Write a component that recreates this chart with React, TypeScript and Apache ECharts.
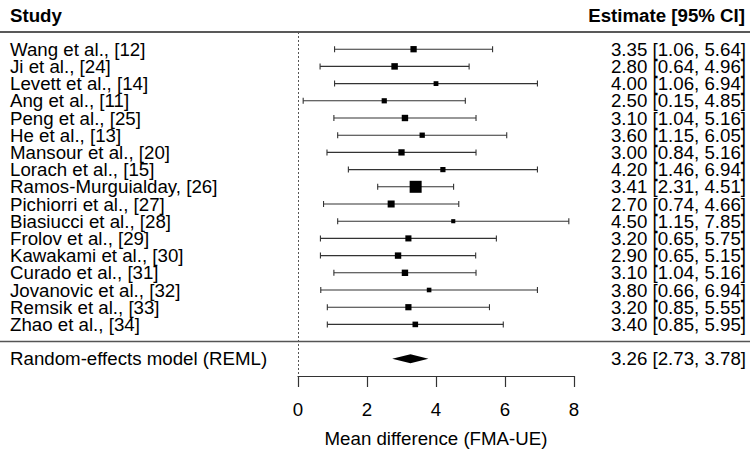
import React, { useEffect, useRef } from "react";
import * as echarts from "echarts";

const studies = [
  "Wang et al., [12]",
  "Ji et al., [24]",
  "Levett et al., [14]",
  "Ang et al., [11]",
  "Peng et al., [25]",
  "He et al., [13]",
  "Mansour et al., [20]",
  "Lorach et al., [15]",
  "Ramos-Murguialday, [26]",
  "Pichiorri et al., [27]",
  "Biasiucci et al., [28]",
  "Frolov et al., [29]",
  "Kawakami et al., [30]",
  "Curado et al., [31]",
  "Jovanovic et al., [32]",
  "Remsik et al., [33]",
  "Zhao et al., [34]",
];
const estimates = [3.35, 2.8, 4.0, 2.5, 3.1, 3.6, 3.0, 4.2, 3.41, 2.7, 4.5, 3.2, 2.9, 3.1, 3.8, 3.2, 3.4];
const lower = [1.06, 0.64, 1.06, 0.15, 1.04, 1.15, 0.84, 1.46, 2.31, 0.74, 1.15, 0.65, 0.65, 1.04, 0.66, 0.85, 0.85];
const upper = [5.64, 4.96, 6.94, 4.85, 5.16, 6.05, 5.16, 6.94, 4.51, 4.66, 7.85, 5.75, 5.15, 5.16, 6.94, 5.55, 5.95];
const weights = [6.3, 6.5, 4.8, 5.2, 6.4, 5.3, 6.3, 5.2, 12.0, 7.0, 4.1, 6.1, 6.4, 6.4, 4.6, 6.2, 5.6];

const summaryLabel = "Random-effects model (REML)";
const summaryEstimate = 3.26;
const summaryLower = 2.73;
const summaryUpper = 3.78;

const headerLeft = "Study";
const headerRight = "Estimate [95% CI]";
const axisTitle = "Mean difference (FMA-UE)";

const FONT = "Liberation Sans, Arial, sans-serif";
const FS = 18.7;
const fmt = (v: number) => v.toFixed(2);

export default function App() {
  const ref = useRef<HTMLDivElement>(null);
  useEffect(() => {
    if (!ref.current) return;
    const chart = echarts.init(ref.current, null, { renderer: "svg" });
    const rowCount = studies.length;
    const studyData = studies.map((_, i) => [i + 1, estimates[i], lower[i], upper[i], weights[i]]);
    const sepRow = rowCount + 1;
    const summaryRow = rowCount + 2;
    const maxRow = rowCount + 3;

    const textStyle = (text: string, align: string) => ({
      text,
      fill: "#000",
      fontSize: FS,
      fontFamily: FONT,
      lineHeight: 16,
      align,
      textAlign: align,
      verticalAlign: "middle",
      textVerticalAlign: "middle",
    });

    chart.setOption({
      animation: false,
      backgroundColor: "#fff",
      grid: { left: 298, right: 176, top: 32, bottom: 80 },
      xAxis: {
        type: "value",
        min: 0,
        max: 8,
        interval: 2,
        position: "bottom",
        splitLine: { show: false },
        axisLine: { show: true, onZero: false, lineStyle: { color: "#333", width: 1.2 } },
        axisTick: { show: true, length: 11, lineStyle: { color: "#333", width: 1.2 } },
        axisLabel: { color: "#000", fontSize: FS, fontFamily: FONT, margin: 24 },
        name: axisTitle,
        nameLocation: "middle",
        nameGap: 53,
        nameTextStyle: { color: "#000", fontSize: FS, fontFamily: FONT },
      },
      yAxis: { type: "value", min: 0, max: maxRow, inverse: true, show: false },
      graphic: [
        { type: "text", left: 10, top: 6, style: { text: headerLeft, fill: "#000", font: `bold ${FS}px ${FONT}` } },
        { type: "text", right: 5, top: 6, style: { text: headerRight, fill: "#000", font: `bold ${FS}px ${FONT}` } },
      ],
      series: [
        {
          type: "custom",
          clip: false,
          data: studyData,
          encode: { x: [1, 2, 3], y: 0 },
          renderItem: (params: any, api: any) => {
            const idx = params.dataIndex;
            const row = api.value(0);
            const est = api.value(1);
            const lo = api.value(2);
            const hi = api.value(3);
            const w = api.value(4);
            const c = api.coord([est, row]);
            const l = api.coord([lo, row]);
            const h = api.coord([hi, row]);
            const s = w;
            const ln = { stroke: "#333", lineWidth: 1.1 };
            return {
              type: "group",
              children: [
                { type: "line", shape: { x1: l[0], y1: l[1], x2: h[0], y2: h[1] }, style: ln },
                { type: "line", shape: { x1: l[0], y1: l[1] - 3, x2: l[0], y2: l[1] + 3 }, style: ln },
                { type: "line", shape: { x1: h[0], y1: h[1] - 3, x2: h[0], y2: h[1] + 3 }, style: ln },
                { type: "rect", shape: { x: c[0] - s / 2, y: c[1] - s / 2, width: s, height: s }, style: { fill: "#000" } },
                { type: "text", x: 10, y: c[1], style: textStyle(studies[idx], "left") },
                {
                  type: "text",
                  x: api.getWidth() - 4,
                  y: c[1],
                  style: textStyle(`${fmt(est)} [${fmt(lo)}, ${fmt(hi)}]`, "right"),
                },
              ],
            };
          },
          markLine: {
            silent: true,
            symbol: "none",
            label: { show: false },
            lineStyle: { color: "#555", type: [2, 2], width: 1 },
            data: [{ xAxis: 0 }],
          },
        },
        {
          type: "custom",
          clip: false,
          data: [[summaryRow, summaryEstimate, summaryLower, summaryUpper, sepRow]],
          encode: { x: [1, 2, 3], y: 0 },
          renderItem: (params: any, api: any) => {
            const row = api.value(0);
            const est = api.value(1);
            const lo = api.value(2);
            const hi = api.value(3);
            const sep = api.value(4);
            const c = api.coord([est, row]);
            const l = api.coord([lo, row]);
            const h = api.coord([hi, row]);
            const sy = api.coord([0, sep])[1];
            const ty = api.coord([0, 0])[1];
            const W = api.getWidth();
            const hh = 4.5;
            return {
              type: "group",
              children: [
                { type: "line", shape: { x1: 0, y1: ty, x2: W, y2: ty }, style: { stroke: "#222", lineWidth: 1.6 } },
                { type: "line", shape: { x1: 0, y1: sy, x2: W, y2: sy }, style: { stroke: "#555", lineWidth: 1.5 } },
                {
                  type: "polygon",
                  shape: { points: [[l[0], c[1]], [c[0], c[1] - hh], [h[0], c[1]], [c[0], c[1] + hh]] },
                  style: { fill: "#000" },
                },
                { type: "text", x: 10, y: c[1], style: textStyle(summaryLabel, "left") },
                { type: "text", x: W - 4, y: c[1], style: textStyle(`${fmt(est)} [${fmt(lo)}, ${fmt(hi)}]`, "right") },
              ],
            };
          },
        },
      ],
    });
    return () => chart.dispose();
  }, []);
  return <div ref={ref} style={{ position: "fixed", left: 0, top: 0, width: 750, height: 456 }} />;
}
